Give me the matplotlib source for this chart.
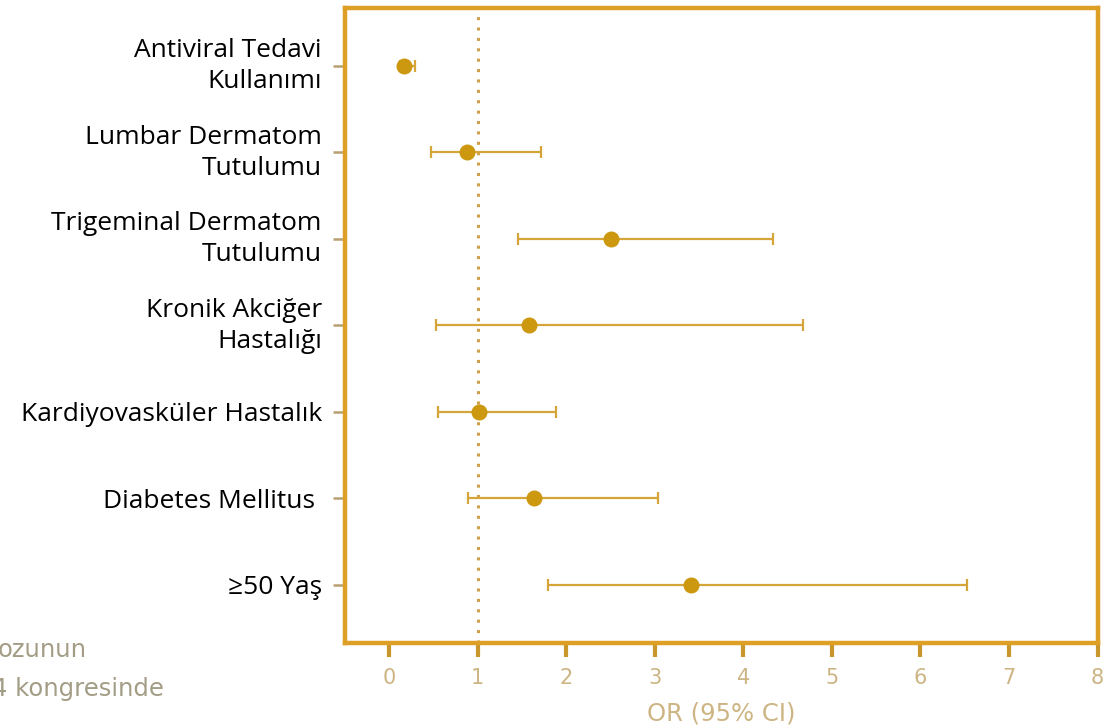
import matplotlib.pyplot as plt
from matplotlib.transforms import ScaledTranslation

# Forest plot data (odds ratio with 95% CI), top to bottom
labels = [
    'Antiviral Tedavi\nKullanımı',
    'Lumbar Dermatom\nTutulumu',
    'Trigeminal Dermatom\nTutulumu',
    'Kronik Akciğer\nHastalığı',
    'Kardiyovasküler Hastalık',
    'Diabetes Mellitus ',
    '≥50 Yaş',
]
odds = [0.17, 0.88, 2.51, 1.58, 1.02, 1.64, 3.41]
ci_low = [0.12, 0.47, 1.46, 0.53, 0.55, 0.89, 1.79]
ci_high = [0.29, 1.72, 4.33, 4.67, 1.88, 3.04, 6.53]
xticks = [0, 1, 2, 3, 4, 5, 6, 7, 8]

frame_color = '#DE9F26'
mark_color = '#CC980F'
tick_text = '#CDB483'
corner_text = '#A39D86'

plt.rcParams['font.family'] = ['Open Sans', 'DejaVu Sans']

fig = plt.figure(figsize=(11.12, 7.28), dpi=100)
ax = fig.add_axes([0.310, 0.117, 0.677, 0.872])

ypos = list(range(len(labels), 0, -1))
err = [[o - l for o, l in zip(odds, ci_low)], [h - o for o, h in zip(odds, ci_high)]]
ax.errorbar(odds, ypos, xerr=err, fmt='o', color=mark_color, ecolor='#D6A53A',
            elinewidth=1.6, capsize=4.3, capthick=1.6, markersize=10.5, zorder=3)

# reference line at OR = 1
ax.axvline(1, color='#CFA04A', linestyle=(0, (1, 2.4)), linewidth=2.2, zorder=1)

ax.set_xlim(-0.5, 8)
ax.set_ylim(0.33, len(labels) + 0.67)
ax.set_xticks(xticks)
ax.set_xticklabels([str(t) for t in xticks], family=['DejaVu Sans'])
ax.set_yticks(ypos)
ax.set_yticklabels(labels, fontsize=19, color='black', linespacing=1.32)

for s in ax.spines.values():
    s.set_color(frame_color)
    s.set_linewidth(3.2)

ax.tick_params(axis='x', direction='out', length=10, width=3, color='#C8962A',
               labelsize=15, labelcolor=tick_text, pad=8)
ax.tick_params(axis='y', direction='out', length=8.5, width=1.8, color='#B8A070', pad=8)

ax.set_xlabel('OR (95% CI)', fontsize=17.5, color=tick_text,
              family=['DejaVu Sans'], labelpad=10)

# two-line labels sit a little high in the original
for lab in ax.get_yticklabels():
    if '\n' in lab.get_text():
        lab.set_transform(lab.get_transform() + ScaledTranslation(0, 4 / 72, fig.dpi_scale_trans))

# cut-off slide text in the lower left corner
fig.text(-0.002, 0.0975, 'ozunun', fontsize=17.5, color=corner_text, va='baseline',
         family=['DejaVu Sans'])
fig.text(-0.007, 0.044, '4 kongresinde', fontsize=17.5, color=corner_text, va='baseline',
         family=['DejaVu Sans'])

fig.savefig('out.png', dpi=100)
